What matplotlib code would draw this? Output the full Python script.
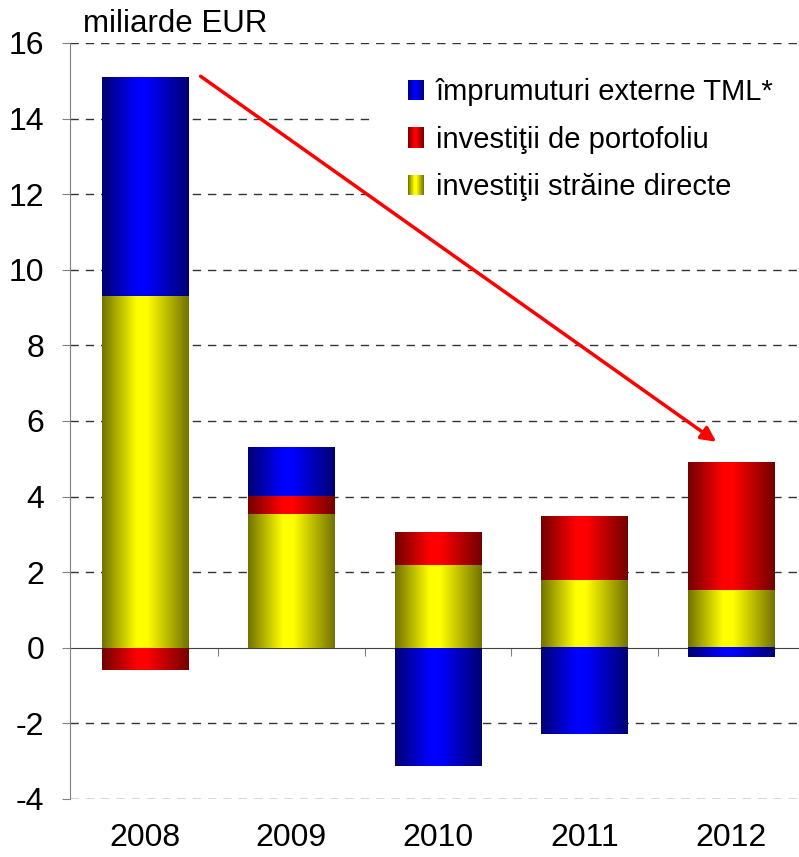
import numpy as np
import matplotlib
matplotlib.use("Agg")
import matplotlib.pyplot as plt
from matplotlib.patches import Rectangle
from matplotlib.legend_handler import HandlerBase
from matplotlib.colors import to_rgb

plt.rcParams['font.family'] = ['Liberation Sans', 'DejaVu Sans']
plt.rcParams['axes.unicode_minus'] = False

years = ['2008', '2009', '2010', '2011', '2012']
fdi = [9.3, 3.55, 2.2, 1.8, 1.52]            # investitii straine directe
portfolio = [-0.58, 0.47, 0.87, 1.69, 3.36]  # investitii de portofoliu
loans = [5.78, 1.27, -3.12, -2.28, -0.24]    # imprumuturi externe TML
labels = ['împrumuturi externe TML*', 'investiţii de portofoliu',
          'investiţii străine directe']
colors = {'fdi': '#ffff00', 'portfolio': '#ff0000', 'loans': '#0000ff'}

arrow_start = (0.38, 15.12)
arrow_end = (3.9, 5.45)


def shade(x):
    return np.interp(x, [0, 0.4, 0.52, 1], [0.45, 1, 1, 0.45])


def gradient_img(c, n=128):
    rgb = np.array(to_rgb(c))
    f = shade(np.linspace(0, 1, n))
    return (f[:, None] * rgb[None, :])[None, :, :]


class GradientHandler(HandlerBase):
    def create_artists(self, legend, orig_handle, xdescent, ydescent,
                       width, height, fontsize, trans):
        n = 24
        rgb = np.array(to_rgb(orig_handle.get_facecolor()))
        arts = []
        for i in range(n):
            f = shade((i + 0.5) / n)
            r = Rectangle((-xdescent + i * width / n, -ydescent),
                          width / n * 1.05, height, facecolor=f * rgb,
                          edgecolor='none', transform=trans)
            arts.append(r)
        return arts


fig = plt.figure(figsize=(7.99, 8.57), dpi=100)
ax = fig.add_axes((69.5 / 799, 58 / 857, 729.5 / 799, 756 / 857))

x = np.arange(len(years))
pos = np.zeros(len(years))
neg = np.zeros(len(years))
width = 0.59
handles = {}
for key, vals in [('fdi', fdi), ('portfolio', portfolio), ('loans', loans)]:
    vals = np.array(vals)
    base = np.where(vals >= 0, pos, neg)
    bars = ax.bar(x, vals, width, bottom=base, color=colors[key],
                  edgecolor='none', zorder=3)
    handles[key] = bars
    pos = pos + np.where(vals >= 0, vals, 0)
    neg = neg + np.where(vals < 0, vals, 0)
    img = gradient_img(colors[key])
    for p in bars.patches:
        x0, y0 = p.get_x(), p.get_y()
        w, h = p.get_width(), p.get_height()
        ax.imshow(img, extent=(x0, x0 + w, y0, y0 + h), aspect='auto',
                  zorder=3, interpolation='bilinear')
        p.set_visible(False)

ax.set_xlim(-0.515, 4.465)
ax.set_ylim(-4, 16)
ax.set_yticks(np.arange(-4, 17, 2))
ax.tick_params(axis='y', labelsize=23, direction='out', length=6,
               color='#808080', pad=12)
ax.set_xticks(x)
ax.set_xticklabels(years)
ax.tick_params(axis='x', labelsize=23, length=0, pad=17)

for s in ['top', 'right', 'bottom']:
    ax.spines[s].set_visible(False)
ax.spines['left'].set_color('#808080')

for yv in np.arange(-4, 17, 2):
    if yv != 0:
        ax.axhline(yv, color='#333333', lw=1, dashes=(6, 5), zorder=1)

sec = ax.secondary_xaxis(0.2)
sec.set_xticks([0.5, 1.5, 2.5, 3.5])
sec.set_xticklabels([])
sec.tick_params(direction='out', length=6, color='#808080')
sec.spines['bottom'].set_color('#404040')

ax.text(-0.42, 16.5, 'miliarde EUR', fontsize=22.5, va='center', ha='left',
        clip_on=False)

# white box behind the legend hides the gridlines there
ax.add_patch(Rectangle((372 / 799, 1 - 208 / 857), 427 / 799, 152 / 857,
                       transform=fig.transFigure, facecolor='white',
                       edgecolor='none', zorder=2, clip_on=False))

ax.annotate('', xy=arrow_end, xytext=arrow_start,
            arrowprops=dict(arrowstyle='-|>', color='red', lw=2.5,
                            mutation_scale=22, shrinkA=0, shrinkB=0),
            zorder=5)

hs = [handles['loans'].patches[0], handles['portfolio'].patches[0],
      handles['fdi'].patches[0]]
ax.legend(hs, labels, loc='upper left',
          bbox_to_anchor=(408 / 799, 1 - 78 / 857),
          bbox_transform=fig.transFigure,
          frameon=False, fontsize=21, handlelength=0.55,
          handleheight=0.7, handletextpad=0.4, labelspacing=0.67,
          borderpad=0, borderaxespad=0,
          handler_map={Rectangle: GradientHandler()})

fig.savefig('out.png', dpi=100)
